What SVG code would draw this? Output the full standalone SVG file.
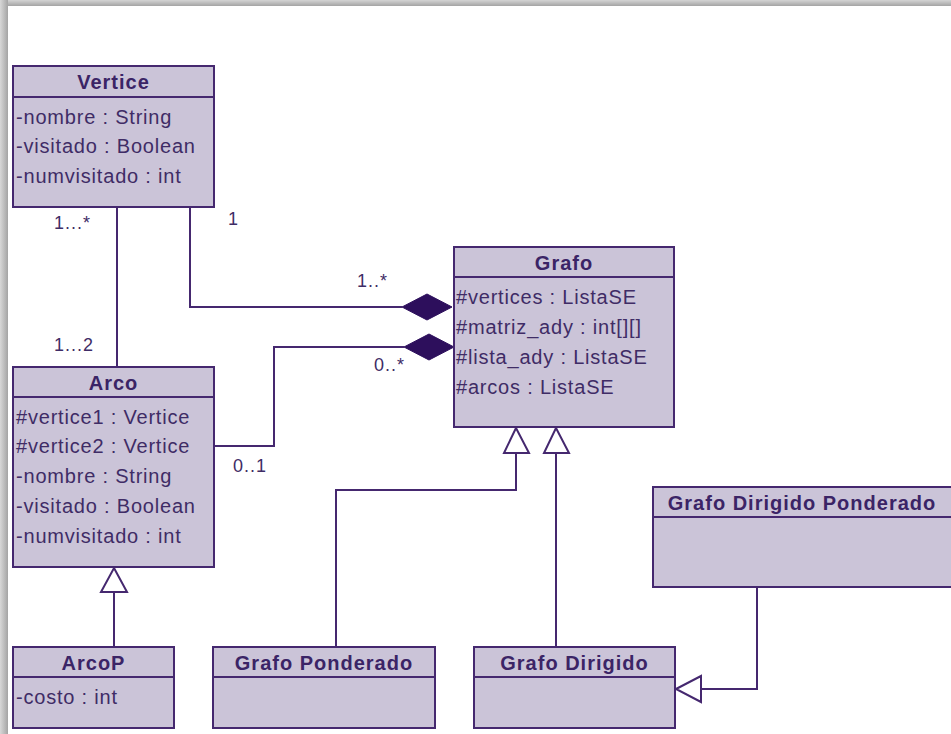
<svg xmlns="http://www.w3.org/2000/svg" width="951" height="734" viewBox="0 0 951 734">
<defs>
<linearGradient id="shT" x1="0" y1="0" x2="0" y2="1"><stop offset="0" stop-color="#d4d4d4"/><stop offset="1" stop-color="#a4a4a4"/></linearGradient>
<linearGradient id="shL" x1="0" y1="0" x2="1" y2="0"><stop offset="0" stop-color="#d8d8d8"/><stop offset="1" stop-color="#a4a4a4"/></linearGradient>
<style>
.box{fill:#cbc4d8;stroke:#45286f;stroke-width:2}
.div{stroke:#45286f;stroke-width:2}
.t{font-family:"Liberation Sans",Arial,sans-serif;font-size:20px;font-weight:bold;fill:#3b2466;text-anchor:middle;letter-spacing:1px}
.a{font-family:"Liberation Sans",Arial,sans-serif;font-size:20px;fill:#3f2c66;letter-spacing:0.8px}
.l{font-family:"Liberation Sans",Arial,sans-serif;font-size:18px;fill:#3f2c66;letter-spacing:1px}
.c{fill:none;stroke:#45286f;stroke-width:2}
.dia{fill:#2d0f5c;stroke:#2d0f5c;stroke-width:1}
.tri{fill:#ffffff;stroke:#45286f;stroke-width:2}
</style>
</defs>
<rect x="0" y="0" width="951" height="734" fill="#ffffff"/>
<rect x="0" y="0" width="951" height="6" fill="url(#shT)"/>
<rect x="0" y="0" width="8" height="734" fill="url(#shL)"/>

<g id="connectors">
  <line class="c" x1="117" y1="207" x2="117" y2="367"/>
  <text class="l" x="54" y="229">1...*</text>
  <text class="l" x="54" y="351">1...2</text>
  <polyline class="c" points="190,207 190,307 402,307"/>
  <polygon class="dia" points="402,307 427,294 452,307 427,320"/>
  <text class="l" x="228" y="225">1</text>
  <text class="l" x="357" y="287">1..*</text>
  <polyline class="c" points="214,446 274,446 274,347 404,347"/>
  <polygon class="dia" points="404,347 429,334 454,347 429,360"/>
  <text class="l" x="374" y="371">0..*</text>
  <text class="l" x="233" y="472">0..1</text>
  <polyline class="c" points="336,647 336,490 516,490 516,453"/>
  <polygon class="tri" points="516,428 529,453 504,453"/>
  <line class="c" x1="556" y1="647" x2="556" y2="453"/>
  <polygon class="tri" points="556,428 569,453 544,453"/>
  <polyline class="c" points="757,587 757,689 701,689"/>
  <polygon class="tri" points="676,689 701,676 701,702"/>
  <line class="c" x1="114" y1="647" x2="114" y2="592"/>
  <polygon class="tri" points="114,568 127,592 101,592"/>
</g>

<g id="Vertice">
  <rect class="box" x="13" y="66" width="201" height="141"/>
  <line class="div" x1="13" y1="97" x2="214" y2="97"/>
  <text class="t" x="113.5" y="89">Vertice</text>
  <text class="a" x="16" y="124">-nombre : String</text>
  <text class="a" x="16" y="153">-visitado : Boolean</text>
  <text class="a" x="16" y="183">-numvisitado : int</text>
</g>

<g id="Grafo">
  <rect class="box" x="454" y="247" width="220" height="180"/>
  <line class="div" x1="454" y1="277" x2="674" y2="277"/>
  <text class="t" x="564" y="270">Grafo</text>
  <text class="a" x="456" y="304">#vertices : ListaSE</text>
  <text class="a" x="456" y="334">#matriz_ady : int[][]</text>
  <text class="a" x="456" y="364">#lista_ady : ListaSE</text>
  <text class="a" x="456" y="394">#arcos : ListaSE</text>
</g>

<g id="Arco">
  <rect class="box" x="13" y="367" width="201" height="200"/>
  <line class="div" x1="13" y1="397" x2="214" y2="397"/>
  <text class="t" x="113.5" y="390">Arco</text>
  <text class="a" x="16" y="424">#vertice1 : Vertice</text>
  <text class="a" x="16" y="453">#vertice2 : Vertice</text>
  <text class="a" x="16" y="483">-nombre : String</text>
  <text class="a" x="16" y="513">-visitado : Boolean</text>
  <text class="a" x="16" y="543">-numvisitado : int</text>
</g>

<g id="ArcoP">
  <rect class="box" x="13" y="647" width="161" height="81"/>
  <line class="div" x1="13" y1="677" x2="174" y2="677"/>
  <text class="t" x="93.5" y="670">ArcoP</text>
  <text class="a" x="16" y="704">-costo : int</text>
</g>

<g id="GrafoPonderado">
  <rect class="box" x="213" y="647" width="222" height="81"/>
  <line class="div" x1="213" y1="677" x2="435" y2="677"/>
  <text class="t" x="324" y="670">Grafo Ponderado</text>
</g>

<g id="GrafoDirigido">
  <rect class="box" x="474" y="647" width="201" height="81"/>
  <line class="div" x1="474" y1="677" x2="675" y2="677"/>
  <text class="t" x="574.5" y="670">Grafo Dirigido</text>
</g>

<g id="GrafoDirigidoPonderado">
  <rect class="box" x="653" y="487" width="300" height="100"/>
  <line class="div" x1="653" y1="517" x2="953" y2="517"/>
  <text class="t" x="802" y="510">Grafo Dirigido Ponderado</text>
</g>
</svg>
